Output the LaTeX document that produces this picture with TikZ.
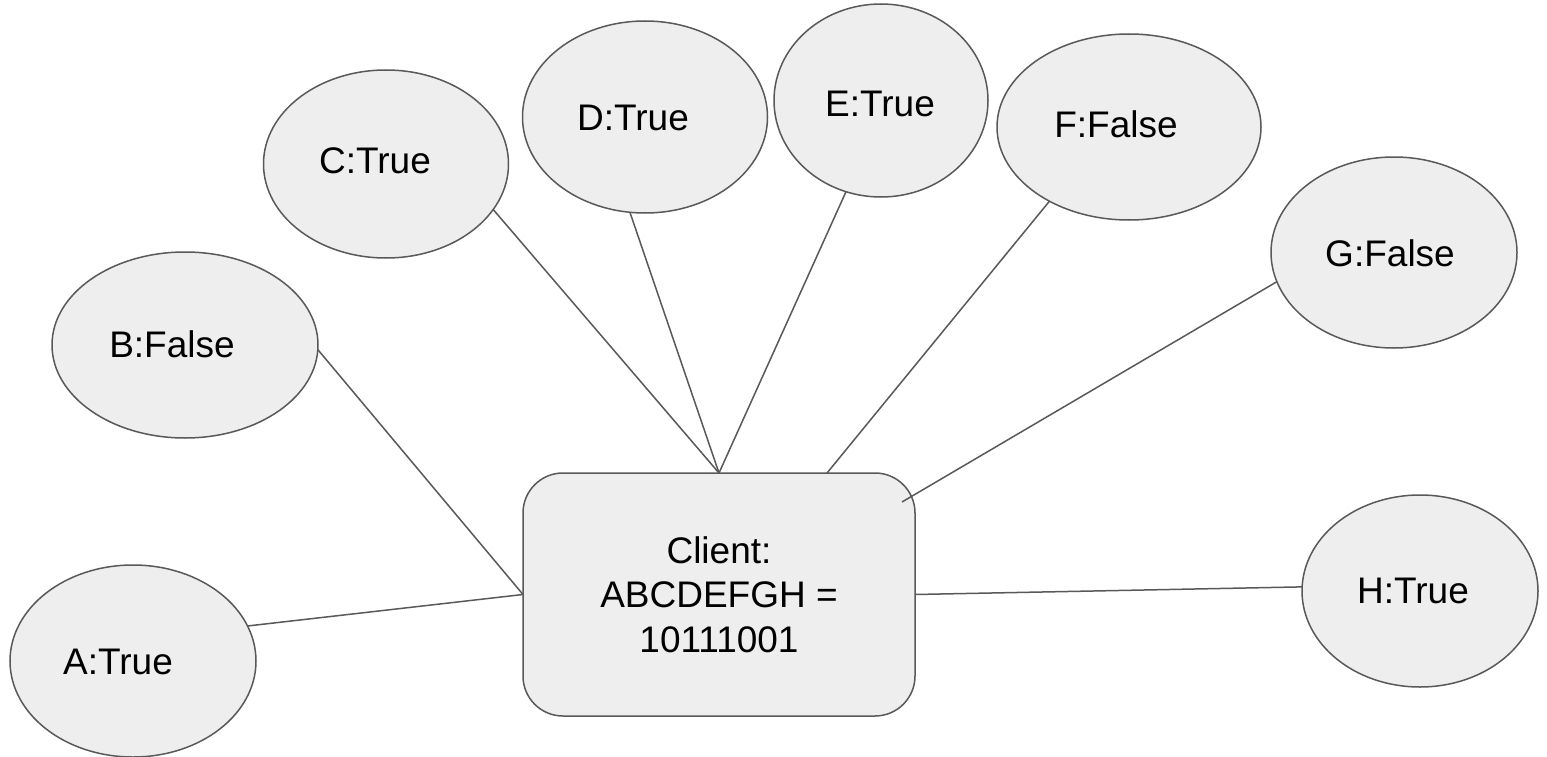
\documentclass[tikz,border=0pt]{standalone}
\usepackage{fontspec}
\setmainfont{Liberation Sans}
\usetikzlibrary{shapes.geometric,calc}
\definecolor{shapefill}{HTML}{EEEEEE}
\definecolor{shapeline}{HTML}{595959}
\begin{document}
\begin{tikzpicture}[x=1pt,y=-1pt,
  oval/.style={ellipse,draw=shapeline,fill=shapefill,line width=1.5pt,inner sep=0pt,outer sep=0pt},
  lbl/.style={inner sep=0pt,font=\fontsize{37}{44.5}\selectfont},
  clientbox/.style={rectangle,rounded corners=40pt,draw=shapeline,fill=shapefill,line width=1.5pt,
    minimum width=392pt,minimum height=243pt,inner sep=0pt,outer sep=0pt,align=center,
    font=\fontsize{37}{44.5}\selectfont},
  link/.style={draw=shapeline,line width=1.5pt}]
\useasboundingbox (0,0) rectangle (1547,757);
\fill[white] (0,0) rectangle (1547,757);

% connectors (drawn first, under shapes)
\node[clientbox] (client) at (719,594.5) {Client:\\ABCDEFGH =\\10111001};

\node[oval,minimum width=246pt,minimum height=192pt] (A) at (133,661) {};
\node[oval,minimum width=266pt,minimum height=186pt] (B) at (185,345) {};
\node[oval,minimum width=245pt,minimum height=188pt] (C) at (386,164) {};
\node[oval,minimum width=245pt,minimum height=192pt] (D) at (645,117) {};
\node[oval,minimum width=214pt,minimum height=193pt] (E) at (881,100.5) {};
\node[oval,minimum width=264pt,minimum height=186pt] (F) at (1129,127) {};
\node[oval,minimum width=246pt,minimum height=191pt] (G) at (1394,252.5) {};
\node[oval,minimum width=236pt,minimum height=192pt] (H) at (1420,591) {};

\node[lbl] (At) at (118,662) {A:True};
\node[lbl] (Bt) at (172,344) {B:False};
\node[lbl] (Ct) at (375,161) {C:True};
\node[lbl] (Dt) at (633,117.5) {D:True};
\node[lbl] (Et) at (880,104) {E:True};
\node[lbl] (Ft) at (1116,124) {F:False};
\node[lbl] (Gt) at (1390,253) {G:False};
\node[lbl] (Ht) at (1413,591) {H:True};

\coordinate (fend) at ($(client.north)+(108,0)$);
\coordinate (gend) at ($(client.north east)+(-13,29)$);

\draw[link] (A.17) -- (client.west);
\draw[link] (B.-2) -- (client.west);
\draw[link] (C.-23) -- (client.north);
\draw[link] (D.-99.5) -- (client.north);
\draw[link] (E.-111) -- (client.north);
\draw[link] (F.-137) -- (fend);
\draw[link] (G.-166) -- (gend);
\draw[link] (client.east) -- (H.178);
\end{tikzpicture}
\end{document}
